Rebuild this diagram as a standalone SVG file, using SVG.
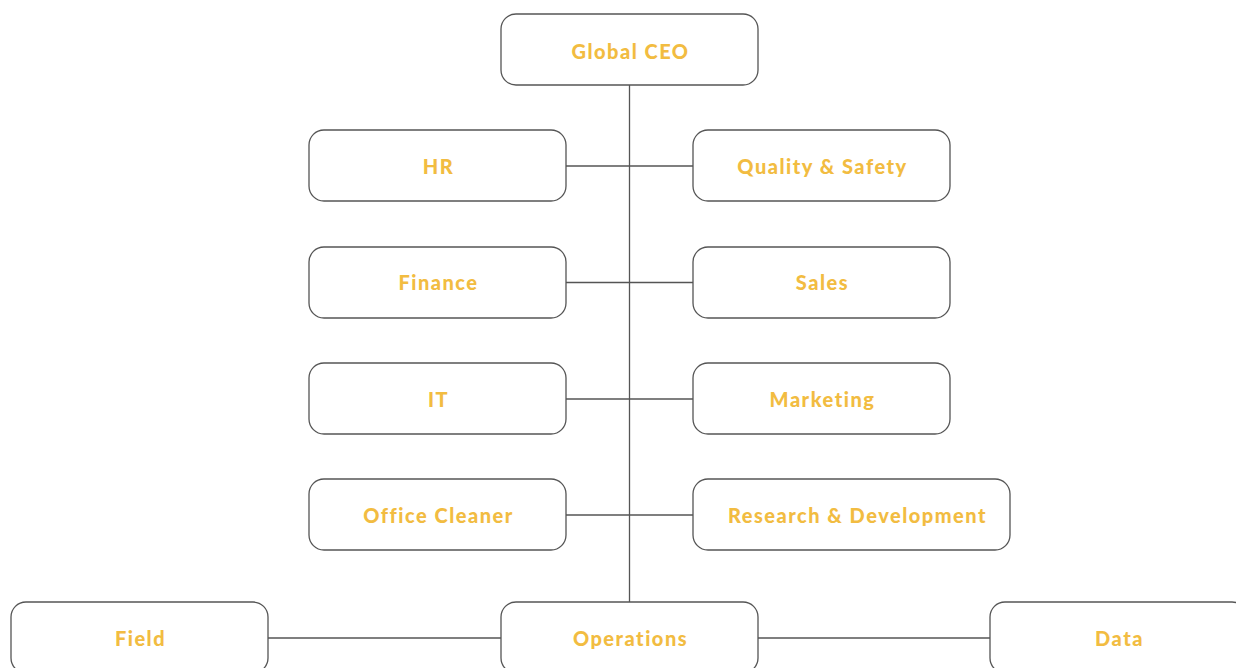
<svg xmlns="http://www.w3.org/2000/svg" width="1236" height="668" viewBox="0 0 1236 668">
<style>
.box{fill:#fff;stroke:#555;stroke-width:1.3}
.lbl{font-family:Lato,"Noto Sans",sans-serif;font-weight:900;font-size:20px;letter-spacing:1.5px;fill:#f2bc41;text-anchor:middle;dominant-baseline:central}
.ln{stroke:#555;stroke-width:1.3;fill:none}
</style>
<rect width="1236" height="668" fill="#fff"/>
<g id="connectors">
<line class="ln" x1="629.5" y1="85" x2="629.5" y2="602"/>
<line class="ln" x1="566" y1="166" x2="693" y2="166"/>
<line class="ln" x1="566" y1="282.5" x2="693" y2="282.5"/>
<line class="ln" x1="566" y1="399" x2="693" y2="399"/>
<line class="ln" x1="566" y1="515" x2="693" y2="515"/>
<line class="ln" x1="268" y1="638" x2="501" y2="638"/>
<line class="ln" x1="758" y1="638" x2="990" y2="638"/>
</g>
<g id="ceo"><rect class="box" x="501" y="14" width="257" height="71" rx="15"/><text class="lbl" x="630.5" y="51">Global CEO</text></g>
<g id="hr"><rect class="box" x="309" y="130" width="257" height="71" rx="15"/><text class="lbl" x="438.5" y="166">HR</text></g>
<g id="quality"><rect class="box" x="693" y="130" width="257" height="71" rx="15"/><text class="lbl" x="822.5" y="166">Quality &amp; Safety</text></g>
<g id="finance"><rect class="box" x="309" y="247" width="257" height="71" rx="15"/><text class="lbl" x="438.5" y="282">Finance</text></g>
<g id="sales"><rect class="box" x="693" y="247" width="257" height="71" rx="15"/><text class="lbl" x="822.5" y="282">Sales</text></g>
<g id="it"><rect class="box" x="309" y="363" width="257" height="71" rx="15"/><text class="lbl" x="438.5" y="399">IT</text></g>
<g id="marketing"><rect class="box" x="693" y="363" width="257" height="71" rx="15"/><text class="lbl" x="822.5" y="399">Marketing</text></g>
<g id="cleaner"><rect class="box" x="309" y="479" width="257" height="71" rx="15"/><text class="lbl" x="438.5" y="515">Office Cleaner</text></g>
<g id="rnd"><rect class="box" x="693" y="479" width="317" height="71" rx="15"/><text class="lbl" x="857.5" y="515">Research &amp; Development</text></g>
<g id="field"><rect class="box" x="11" y="602" width="257" height="71" rx="15"/><text class="lbl" x="140.5" y="638">Field</text></g>
<g id="operations"><rect class="box" x="501" y="602" width="257" height="71" rx="15"/><text class="lbl" x="630.5" y="638">Operations</text></g>
<g id="data"><rect class="box" x="990" y="602" width="257" height="71" rx="15"/><text class="lbl" x="1119.5" y="638">Data</text></g>
</svg>
